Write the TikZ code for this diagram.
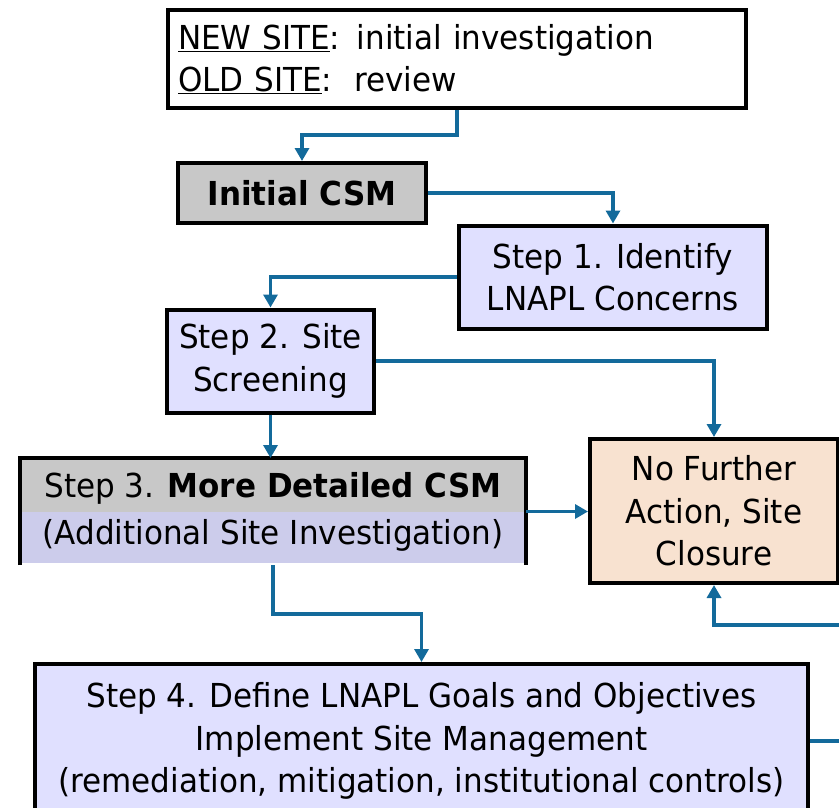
\documentclass[tikz,border=0pt]{standalone}
\usepackage{fontspec}
\setmainfont{DejaVu Sans}[FakeStretch=0.94]
\usepackage{xcolor}
\usetikzlibrary{arrows.meta,positioning}
\definecolor{lav}{HTML}{E0E0FF}
\definecolor{lavdark}{HTML}{CCCCEB}
\definecolor{csmgrey}{HTML}{C8C8C8}
\definecolor{peach}{HTML}{F8E2D0}
\definecolor{linkblue}{HTML}{136A9B}
\tikzset{
  box/.style={rectangle,draw=black,line width=4pt,fill=white,inner sep=0pt,
    align=center,font=\fontsize{33}{42.5}\selectfont},
  stepbox/.style={box,fill=lav},
  link/.style={draw=linkblue,line width=3.5pt,-{Triangle[length=13pt,width=14pt]}}
}

\begin{document}
\begin{tikzpicture}[x=1pt,y=-1pt]
  \useasboundingbox (0,0) rectangle (839,807);

  \node[box,minimum width=578,minimum height=98,text width=558,align=left] (site) at (457,59)
    {\underline{NEW SITE}: initial investigation\\ \underline{OLD SITE}:\ \ review};
  \node[box,fill=csmgrey,minimum width=248,minimum height=60,font=\fontsize{33}{42}\selectfont\bfseries] (csm) at (302,193) {Initial CSM};
  \node[stepbox,minimum width=308,minimum height=103] (step1) at (613,277) {Step 1. Identify\\LNAPL Concerns};
  \node[stepbox,minimum width=207,minimum height=103] (step2) at (270.5,361) {Step 2. Site\\Screening};
  \node[box,fill=peach,minimum width=248,minimum height=144] (nfa) at (714,511) {No Further\\Action, Site\\Closure};
  \node[box,draw=none,fill=lavdark,minimum width=502,minimum height=103,
    path picture={\fill[csmgrey] (path picture bounding box.north west) rectangle (path picture bounding box.east);}]
    (step3) at (273,511.5) {\rule{0pt}{26pt}Step 3. \textbf{More Detailed CSM}\\[5pt](Additional Site Investigation)};
    \draw[line width=4pt] (step3.south west) |- (step3.north east) -- (step3.south east);
  \node[stepbox,minimum width=773,minimum height=154] (step4) at (421.5,741)
    {Step 4. Define LNAPL Goals and Objectives\\Implement Site Management\\(remediation, mitigation, institutional controls)};

  \coordinate (back) at (860,625);

  \draw[link] (site.south) -- ++(0,25) -| (csm.north);
  \draw[link] (csm.east) -| (step1.north);
  \draw[link] (step1.west) -| (step2.north);
  \draw[link] (step2.east) -| (nfa.north);
  \draw[link] (step2.south) -- (step2.south |- step3.north);
  \draw[link] (step3.east) -- (step3.east -| nfa.west);
  \draw[link] (step3.south) -- ++(0,49) -| (step4.north);
  \draw[link] (step4.east) -| (back) -| (nfa.south);

\end{tikzpicture}
\end{document}
